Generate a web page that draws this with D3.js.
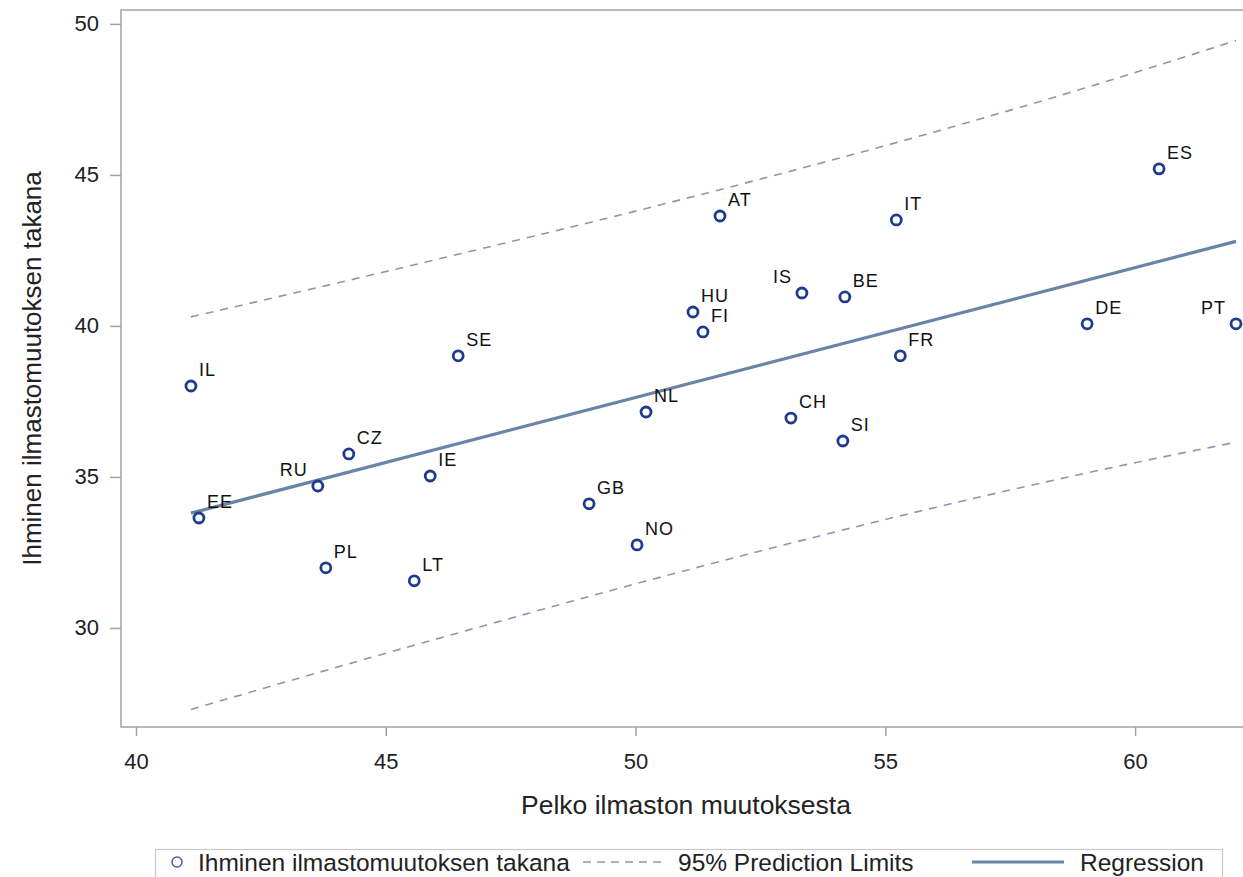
<!DOCTYPE html>
<html>
<head>
<meta charset="utf-8">
<script src="https://cdn.jsdelivr.net/npm/d3@7"></script>
<style>
  body { margin: 0; background: #fff; }
  text { font-family: "Liberation Sans", Arial, sans-serif; }
</style>
</head>
<body>
<svg id="chart" width="1243" height="877"></svg>
<script>
// Country scores: fear of climate change (x) vs. belief that humans cause it (y)
const countries = ["IL","EE","RU","CZ","PL","IE","LT","SE","GB","NO","NL","HU","FI","AT","IS","BE","CH","SI","IT","FR","DE","ES","PT"];
const fear  = [41.10,41.26,43.64,44.26,43.80,45.89,45.57,46.45,49.07,50.03,50.21,51.15,51.35,51.69,53.33,54.19,53.11,54.15,55.22,55.30,59.04,60.48,62.02];
const human = [38.01,33.64,34.70,35.76,31.99,35.03,31.56,39.01,34.11,32.75,37.15,40.46,39.80,43.64,41.09,40.96,36.95,36.19,43.51,39.01,40.07,45.20,40.07];
// labels placed to the left of their marker
const leftLabelled = ["RU","IS","PT"];

// fitted regression line (end points)
const regX = [41.10, 62.02];
const regY = [33.80, 42.80];

// 95% prediction limits
const limitX     = [41.10, 44.00, 47.00, 50.00, 53.00, 56.00, 59.00, 62.02];
const upperLimit = [40.30, 41.41, 42.59, 43.80, 45.08, 46.43, 47.88, 49.45];
const lowerLimit = [27.30, 28.69, 30.09, 31.46, 32.76, 33.99, 35.12, 36.15];

const xTicks = [40, 45, 50, 55, 60];
const yTicks = [30, 35, 40, 45, 50];

const xTitle = "Pelko ilmaston muutoksesta";
const yTitle = "Ihminen ilmastomuutoksen takana";
const legendItems = ["Ihminen ilmastomuutoksen takana", "95% Prediction Limits", "Regression"];

const svg = d3.select("#chart");
const plot = { left: 121, right: 1251, top: 10, bottom: 727 };

const x = d3.scaleLinear().domain([39.70, 62.32]).range([plot.left, plot.right]);
const y = d3.scaleLinear().domain([26.72, 50.46]).range([plot.bottom, plot.top]);

const markerColor = "#1f3c8c";
const fitColor = "#6a83a6";
const limitColor = "#9292b4";
const axisColor = "#a3a3a3";
const textColor = "#222";

// axes
const yAxis = svg.append("g")
  .attr("transform", `translate(${plot.left},0)`)
  .call(d3.axisLeft(y).tickValues(yTicks).tickSize(11).tickPadding(11).tickFormat(d3.format("d")));
const xAxis = svg.append("g")
  .attr("transform", `translate(0,${plot.bottom})`)
  .call(d3.axisBottom(x).tickValues(xTicks).tickSize(9).tickPadding(17).tickFormat(d3.format("d")));
[xAxis, yAxis].forEach(g => {
  g.select(".domain").remove();
  g.selectAll(".tick line").attr("stroke", axisColor).attr("stroke-width", 1.5);
  g.selectAll(".tick text").attr("fill", textColor).style("font-size", "22px")
    .style("font-family", "'Liberation Sans', Arial, sans-serif");
});

// plot frame
svg.append("rect")
  .attr("x", plot.left).attr("y", plot.top)
  .attr("width", plot.right - plot.left).attr("height", plot.bottom - plot.top)
  .attr("fill", "none").attr("stroke", axisColor).attr("stroke-width", 1.5);

// prediction limits
const limitLine = d3.line().x(d => x(d[0])).y(d => y(d[1])).curve(d3.curveMonotoneX);
[upperLimit, lowerLimit].forEach(arr => {
  svg.append("path")
    .attr("d", limitLine(limitX.map((v, i) => [v, arr[i]])))
    .attr("fill", "none").attr("stroke", limitColor)
    .attr("stroke-width", 1.6).attr("stroke-dasharray", "8,7");
});

// regression line
svg.append("path")
  .attr("d", d3.line().x(d => x(d[0])).y(d => y(d[1]))(regX.map((v, i) => [v, regY[i]])))
  .attr("fill", "none").attr("stroke", fitColor).attr("stroke-width", 3.2);

// markers
const pts = countries.map((c, i) => ({ c, fx: fear[i], hy: human[i] }));
svg.append("g").selectAll("circle").data(pts).join("circle")
  .attr("cx", d => x(d.fx)).attr("cy", d => y(d.hy)).attr("r", 5)
  .attr("fill", "none").attr("stroke", markerColor).attr("stroke-width", 2.8);

// country labels
svg.append("g").selectAll("text").data(pts).join("text")
  .attr("x", d => x(d.fx) + (leftLabelled.includes(d.c) ? -10 : 8))
  .attr("y", d => y(d.hy) - 10)
  .attr("text-anchor", d => leftLabelled.includes(d.c) ? "end" : "start")
  .attr("fill", "#111").style("font-size", "18px").style("letter-spacing", "1px")
  .text(d => d.c);

// axis titles
svg.append("text")
  .attr("x", (plot.left + plot.right) / 2).attr("y", 814)
  .attr("text-anchor", "middle").attr("fill", textColor).style("font-size", "26.5px")
  .text(xTitle);
svg.append("text")
  .attr("transform", `translate(41,${(plot.top + plot.bottom) / 2}) rotate(-90)`)
  .attr("text-anchor", "middle").attr("fill", textColor).style("font-size", "26px")
  .text(yTitle);

// legend
const lg = svg.append("g");
lg.append("rect").attr("x", 155.5).attr("y", 849.5).attr("width", 1067).attr("height", 40)
  .attr("fill", "#fff").attr("stroke", "#c8c8c8").attr("stroke-width", 1.2);
const ly = 862;
lg.append("circle").attr("cx", 177).attr("cy", ly).attr("r", 5)
  .attr("fill", "none").attr("stroke", "#4a5f9e").attr("stroke-width", 1.5);
lg.append("line").attr("x1", 583).attr("x2", 662).attr("y1", ly).attr("y2", ly)
  .attr("stroke", limitColor).attr("stroke-width", 1.6).attr("stroke-dasharray", "8,6");
lg.append("line").attr("x1", 972).attr("x2", 1064).attr("y1", ly).attr("y2", ly)
  .attr("stroke", fitColor).attr("stroke-width", 3.2);
const legendX = [198, 678, 1080];
legendItems.forEach((t, i) => {
  lg.append("text").attr("x", legendX[i]).attr("y", ly + 9)
    .attr("fill", textColor).style("font-size", "24.5px").text(t);
});
</script>
</body>
</html>
